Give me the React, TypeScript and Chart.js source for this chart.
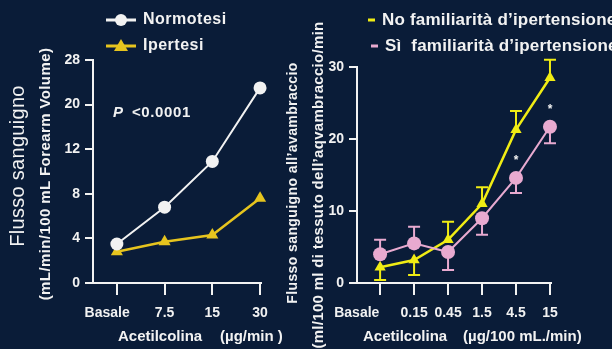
import React, { useEffect, useRef } from "react";
import { Chart, registerables } from "chart.js";
Chart.register(...registerables);

const BG = "#0a1c38";
const FONT = "'Liberation Sans', Arial, sans-serif";
const WHITE = "#f2f2f2";
const YEL_L = "#e6c41e";
const YEL_R = "#f0ec14";
const PINK = "#e8aad0";

// Left panel data
const leftCategories = ["Basale", "7.5", "15", "30"];
const leftYTicks = [0, 4, 8, 12, 20, 28];
const normotesi = [3.5, 6.8, 10.9, 23.0];
const ipertesi = [2.8, 3.7, 4.3, 7.6];

// Right panel data
const rightCategories = ["Basale", "0.15", "0.45", "1.5", "4.5", "15"];
const rightYTicks = [0, 10, 20, 30];
const noFam = [2.2, 3.2, 6.0, 11.0, 21.3, 28.5];
const noFamErrEnd = [0.4, 1.1, 8.5, 13.3, 23.9, 31.0];
const siFam = [4.0, 5.5, 4.3, 9.0, 14.6, 21.7];
const siFamErrEnd = [6.0, 7.8, 1.8, 6.7, 12.5, 19.4];
const siFamStars = ["", "", "", "", "*", "*"];

// piecewise mapping of the left panel's uneven axis (equal spacing between ticks)
function toTickIndex(v: number): number {
  for (let i = 0; i < leftYTicks.length - 1; i++) {
    const a = leftYTicks[i], b = leftYTicks[i + 1];
    if (v <= b) return i + (v - a) / (b - a);
  }
  return leftYTicks.length - 1;
}

type TextItem = {
  text: string; x: number; y: number; rot?: number; font: string; color?: string;
  align?: CanvasTextAlign; spacing?: string;
};
type LegendItem = { x1: number; x2: number; y: number; color: string; marker?: "circle" | "triangle" | "none"; };

function makeOverlayPlugin(texts: TextItem[], legend: LegendItem[]) {
  return {
    id: "overlay",
    afterDraw(chart: any) {
      const ctx: CanvasRenderingContext2D = chart.ctx;
      ctx.save();
      for (const l of legend) {
        ctx.strokeStyle = l.color;
        ctx.fillStyle = l.color;
        ctx.lineWidth = 3;
        ctx.beginPath();
        ctx.moveTo(l.x1, l.y);
        ctx.lineTo(l.x2, l.y);
        ctx.stroke();
        const cx = (l.x1 + l.x2) / 2;
        if (l.marker === "circle") {
          ctx.beginPath();
          ctx.arc(cx, l.y, 6, 0, Math.PI * 2);
          ctx.fill();
        } else if (l.marker === "triangle") {
          ctx.beginPath();
          ctx.moveTo(cx, l.y - 7);
          ctx.lineTo(cx + 7, l.y + 5);
          ctx.lineTo(cx - 7, l.y + 5);
          ctx.closePath();
          ctx.fill();
        }
      }
      for (const t of texts) {
        ctx.save();
        ctx.translate(t.x, t.y);
        if (t.rot) ctx.rotate(t.rot);
        ctx.font = t.font;
        (ctx as any).letterSpacing = t.spacing || "0px";
        ctx.fillStyle = t.color || WHITE;
        ctx.textAlign = t.align || "left";
        ctx.textBaseline = "middle";
        ctx.fillText(t.text, 0, 0);
        ctx.restore();
      }
      ctx.restore();
    },
  };
}

const errorBarPlugin = {
  id: "errorBars",
  afterDatasetsDraw(chart: any) {
    const ctx: CanvasRenderingContext2D = chart.ctx;
    const xs = chart.scales.x;
    const ys = chart.scales.y;
    const sets = [
      { vals: noFam, ends: noFamErrEnd, color: YEL_R, stars: null as string[] | null },
      { vals: siFam, ends: siFamErrEnd, color: PINK, stars: siFamStars },
    ];
    ctx.save();
    for (const s of sets) {
      ctx.strokeStyle = s.color;
      ctx.lineWidth = 2;
      s.vals.forEach((v, i) => {
        const px = xs.getPixelForValue(i);
        const py = ys.getPixelForValue(v);
        const pe = ys.getPixelForValue(s.ends[i]);
        ctx.beginPath();
        ctx.moveTo(px, py);
        ctx.lineTo(px, pe);
        ctx.moveTo(px - 6, pe);
        ctx.lineTo(px + 6, pe);
        ctx.stroke();
        if (s.stars && s.stars[i]) {
          ctx.fillStyle = WHITE;
          ctx.font = `bold 12px ${FONT}`;
          ctx.textAlign = "center";
          ctx.textBaseline = "middle";
          ctx.fillText(s.stars[i], px, py - 17);
        }
      });
    }
    ctx.restore();
  },
};

const tickFont = { family: FONT, size: 14, weight: "bold" as const };

export default function App() {
  const leftRef = useRef<HTMLCanvasElement>(null);
  const rightRef = useRef<HTMLCanvasElement>(null);

  useEffect(() => {
    const leftTexts: TextItem[] = [
      { text: "Flusso sanguigno", x: 18, y: 166, rot: -Math.PI / 2, font: `20px ${FONT}`, align: "center", spacing: "0.3px" },
      { text: "(mL/min/100 mL Forearm Volume)", x: 46, y: 174, rot: -Math.PI / 2, font: `bold 15px ${FONT}`, align: "center", spacing: "0.4px" },
      { text: "Normotesi", x: 143, y: 20, font: `bold 16px ${FONT}`, spacing: "0.5px" },
      { text: "Ipertesi", x: 143, y: 46, font: `bold 16px ${FONT}`, spacing: "0.5px" },
      { text: "P", x: 113, y: 113, font: `italic bold 15px ${FONT}` },
      { text: "<0.0001", x: 132, y: 113, font: `bold 15px ${FONT}`, spacing: "0.6px" },
      { text: "Acetilcolina", x: 118, y: 337, font: `bold 15px ${FONT}` },
      { text: "(µg/min )", x: 220, y: 337, font: `bold 15px ${FONT}` },
    ];
    const leftLegend: LegendItem[] = [
      { x1: 106, x2: 136, y: 20, color: WHITE, marker: "circle" },
      { x1: 106, x2: 136, y: 46, color: YEL_L, marker: "triangle" },
    ];

    const left = new Chart(leftRef.current!, {
      type: "line",
      data: {
        datasets: [
          {
            data: normotesi.map((v, i) => ({ x: i, y: toTickIndex(v) })),
            borderColor: WHITE, backgroundColor: WHITE, borderWidth: 2,
            pointStyle: "circle", pointRadius: 6.5, pointBorderWidth: 0, clip: false,
          },
          {
            data: ipertesi.map((v, i) => ({ x: i, y: toTickIndex(v) })),
            borderColor: YEL_L, backgroundColor: YEL_L, borderWidth: 2.5,
            pointStyle: "triangle", pointRadius: 7, pointBorderWidth: 0, clip: false,
          },
        ],
      },
      options: {
        responsive: false,
        animation: false,
        devicePixelRatio: 1,
        layout: { padding: { top: 60, right: 21, left: 0, bottom: 0 } },
        plugins: { legend: { display: false }, tooltip: { enabled: false } },
        scales: {
          x: {
            type: "linear", min: -0.5, max: 3.02,
            afterFit: (s: any) => { s.height = 66; },
            ticks: {
              stepSize: 1, includeBounds: false, color: WHITE, font: tickFont, padding: 10,
              maxRotation: 0, autoSkip: false,
              callback: (v: any) => {
                const l = leftCategories[v] ?? "";
                return v === 0 ? l + "     " : l;
              },
            },
            grid: { display: true, drawOnChartArea: false, drawTicks: true, tickLength: 12, color: WHITE, lineWidth: 2 },
            border: { display: true, color: WHITE, width: 2 },
          },
          y: {
            type: "linear", min: 0, max: leftYTicks.length - 1,
            afterFit: (s: any) => { s.width = 93; },
            ticks: {
              stepSize: 1, color: WHITE, font: tickFont, padding: 5,
              callback: (v: any) => String(leftYTicks[v] ?? ""),
            },
            grid: { display: true, drawOnChartArea: false, drawTicks: true, tickLength: 8, color: WHITE, lineWidth: 2 },
            border: { display: true, color: WHITE, width: 2 },
          },
        },
      },
      plugins: [makeOverlayPlugin(leftTexts, leftLegend)],
    } as any);

    const OX = 282;
    const rightTexts: TextItem[] = [
      { text: "Flusso sanguigno all’avambraccio", x: 293 - OX, y: 183, rot: -Math.PI / 2, font: `bold 14px ${FONT}`, align: "center", spacing: "0.4px" },
      { text: "(ml/100 ml di tessuto dell’aqvambraccio/min", x: 319 - OX, y: 185, rot: -Math.PI / 2, font: `bold 15px ${FONT}`, align: "center", spacing: "0.3px" },
      { text: "No familiarità d’ipertensione", x: 382 - OX, y: 20, font: `bold 17px ${FONT}`, spacing: "0.2px" },
      { text: "Sì  familiarità d’ipertensione", x: 385 - OX, y: 46, font: `bold 17px ${FONT}`, spacing: "0.2px" },
      { text: "Acetilcolina", x: 363 - OX, y: 337, font: `bold 15px ${FONT}` },
      { text: "(µg/100 mL./min)", x: 463 - OX, y: 337, font: `bold 15px ${FONT}` },
    ];
    const rightLegend: LegendItem[] = [
      { x1: 368 - OX, x2: 375 - OX, y: 20, color: YEL_R, marker: "none" },
      { x1: 371 - OX, x2: 378 - OX, y: 46, color: PINK, marker: "none" },
    ];

    const right = new Chart(rightRef.current!, {
      type: "line",
      data: {
        datasets: [
          {
            data: siFam.map((v, i) => ({ x: i, y: v })),
            borderColor: PINK, backgroundColor: PINK, borderWidth: 2,
            pointStyle: "circle", pointRadius: 7, pointBorderWidth: 0, clip: false,
          },
          {
            data: noFam.map((v, i) => ({ x: i, y: v })),
            borderColor: YEL_R, backgroundColor: YEL_R, borderWidth: 2.5,
            pointStyle: "triangle", pointRadius: 6.5, pointBorderWidth: 0, clip: false,
          },
        ],
      },
      options: {
        responsive: false,
        animation: false,
        devicePixelRatio: 1,
        layout: { padding: { top: 67, right: 61, left: 0, bottom: 0 } },
        plugins: { legend: { display: false }, tooltip: { enabled: false } },
        scales: {
          x: {
            type: "linear", min: -0.68, max: 5.03,
            afterFit: (s: any) => { s.height = 66; },
            ticks: {
              stepSize: 1, includeBounds: false, color: WHITE, font: tickFont, padding: 10,
              maxRotation: 0, autoSkip: false,
              callback: (v: any) => {
                const l = rightCategories[v] ?? "";
                return v === 0 ? l + "            " : l;
              },
            },
            grid: { display: true, drawOnChartArea: false, drawTicks: true, tickLength: 12, color: WHITE, lineWidth: 2 },
            border: { display: true, color: WHITE, width: 2 },
          },
          y: {
            type: "linear", min: rightYTicks[0], max: rightYTicks[rightYTicks.length - 1],
            afterFit: (s: any) => { s.width = 75; },
            ticks: { stepSize: 10, color: WHITE, font: tickFont, padding: 5 },
            grid: { display: true, drawOnChartArea: false, drawTicks: true, tickLength: 8, color: WHITE, lineWidth: 2 },
            border: { display: true, color: WHITE, width: 2 },
          },
        },
      },
      plugins: [errorBarPlugin, makeOverlayPlugin(rightTexts, rightLegend)],
    } as any);

    return () => {
      left.destroy();
      right.destroy();
    };
  }, []);

  return (
    <div style={{ position: "absolute", left: 0, top: 0, width: 612, height: 349, background: BG, overflow: "hidden" }}>
      <canvas ref={leftRef} width={282} height={349} style={{ position: "absolute", left: 0, top: 0, width: 282, height: 349 }} />
      <canvas ref={rightRef} width={330} height={349} style={{ position: "absolute", left: 282, top: 0, width: 330, height: 349 }} />
    </div>
  );
}
